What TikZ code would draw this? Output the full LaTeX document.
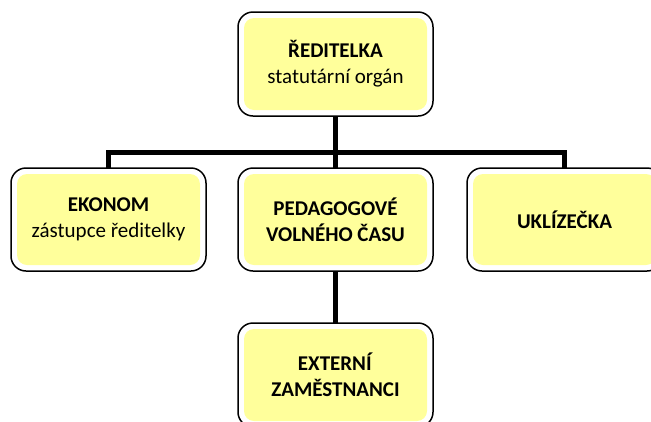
\documentclass[tikz,border=0pt]{standalone}
\usepackage{fontspec}
\setmainfont{Carlito}
\usetikzlibrary{positioning}
\definecolor{boxfill}{RGB}{255,255,155}

\begin{document}
\begin{tikzpicture}[
    x=1pt, y=-1pt,
    unit/.style = {draw, line width=1.5pt, rounded corners=15pt, fill=white,
        minimum width=195pt, minimum height=104pt, inner sep=0pt, outer sep=0pt,
        align=center, font=\fontsize{21}{26}\selectfont,
        path picture={\fill[boxfill, rounded corners=10pt]
            ([shift={(6pt,6pt)}]path picture bounding box.south west) rectangle
            ([shift={(-6pt,-6pt)}]path picture bounding box.north east);}},
    link/.style = {line width=5pt, line join=miter},
    node distance=52pt
    ]
    \useasboundingbox (0,0) rectangle (651,421);
    \clip (0,0) rectangle (651,421);

    \node[unit] (reditelka) at (335.5,64) {\textbf{ŘEDITELKA}\\statutární orgán};
    \node[unit, minimum height=103pt, below=of reditelka] (pedagogove) {\textbf{PEDAGOGOVÉ}\\\textbf{VOLNÉHO ČASU}};
    \node[unit, minimum height=103pt, left=32pt of pedagogove] (ekonom) {\textbf{EKONOM}\\zástupce ředitelky};
    \node[unit, minimum height=103pt, right=34pt of pedagogove] (uklizecka) {\textbf{UKLÍZEČKA}};
    \node[unit, below=of pedagogove] (externi) {\textbf{EXTERNÍ}\\\textbf{ZAMĚSTNANCI}};

    \draw[link] (reditelka.south) -- (pedagogove.north);
    \draw[link] (ekonom.north) -- ++(0,-16) -| (uklizecka.north);
    \draw[link] (pedagogove.south) -- (externi.north);
\end{tikzpicture}
\end{document}
